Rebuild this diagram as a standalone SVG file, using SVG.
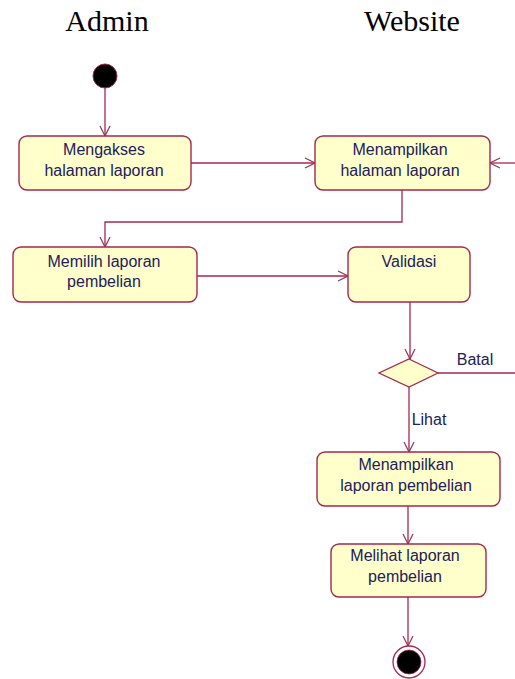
<svg xmlns="http://www.w3.org/2000/svg" width="515" height="679" viewBox="0 0 515 679">
<defs>
<marker id="arr" viewBox="0 0 12 12" refX="11" refY="6" markerWidth="12" markerHeight="12" markerUnits="userSpaceOnUse" orient="auto">
<path d="M1,1 L11,6 L1,11" fill="none" stroke="#993355" stroke-width="1.2"/>
</marker>
<style>
.node rect{fill:#FFFFCC;stroke:#A3294F;stroke-width:1.4}
.lbl{font-family:"Liberation Sans",Arial,sans-serif;font-size:16px;fill:#22205A;text-anchor:middle}
.title{font-family:"Liberation Serif","Times New Roman",serif;font-size:30px;fill:#000;text-anchor:middle}
.conn path{fill:none;stroke:#A3294F;stroke-width:1.3;marker-end:url(#arr)}
.conn .plain{marker-end:none}
</style>
</defs>
<rect width="515" height="679" fill="#fff"/>
<text class="title" x="107" y="31">Admin</text>
<text class="title" x="412" y="31">Website</text>

<g id="conns" class="conn">
<path d="M105,88 V136"/>
<path d="M191,163 H315"/>
<path d="M515,163 H490"/>
<path d="M402,190 V222 H105 V247"/>
<path d="M197,276 H348"/>
<path d="M410,302 V359"/>
<path class="plain" d="M438,373 H515"/>
<path d="M409,387 V452"/>
<path d="M408,506 V544"/>
<path d="M408,597 V646"/>
</g>

<g id="start"><circle cx="105" cy="76" r="12" fill="#000" stroke="#A3294F" stroke-width="1"/></g>

<g id="n1" class="node"><rect x="19" y="136" width="172" height="54" rx="8"/>
<text class="lbl" x="104" y="155">Mengakses</text><text class="lbl" x="104" y="176">halaman laporan</text></g>

<g id="n2" class="node"><rect x="315" y="136" width="175" height="54" rx="8"/>
<text class="lbl" x="400" y="155">Menampilkan</text><text class="lbl" x="400" y="176">halaman laporan</text></g>

<g id="n3" class="node"><rect x="13" y="247" width="184" height="55" rx="8"/>
<text class="lbl" x="104" y="267">Memilih laporan</text><text class="lbl" x="104" y="287">pembelian</text></g>

<g id="n4" class="node"><rect x="348" y="247" width="122" height="55" rx="8"/>
<text class="lbl" x="409" y="267">Validasi</text></g>

<g id="decision"><polygon points="409,359 438,373 409,387 379,373" fill="#FFFFCC" stroke="#A3294F" stroke-width="1.3"/></g>
<text class="lbl" x="475" y="365">Batal</text>
<text class="lbl" x="429" y="425">Lihat</text>

<g id="n5" class="node"><rect x="317" y="452" width="183" height="54" rx="8"/>
<text class="lbl" x="406" y="470">Menampilkan</text><text class="lbl" x="406" y="491">laporan pembelian</text></g>

<g id="n6" class="node"><rect x="331" y="544" width="155" height="53" rx="8"/>
<text class="lbl" x="405" y="561">Melihat laporan</text><text class="lbl" x="405" y="582">pembelian</text></g>

<g id="end"><circle cx="409" cy="662" r="16" fill="#fff" stroke="#A3294F" stroke-width="1.3"/>
<circle cx="409" cy="662" r="12" fill="#000" stroke="#A3294F" stroke-width="0.8"/></g>
</svg>
